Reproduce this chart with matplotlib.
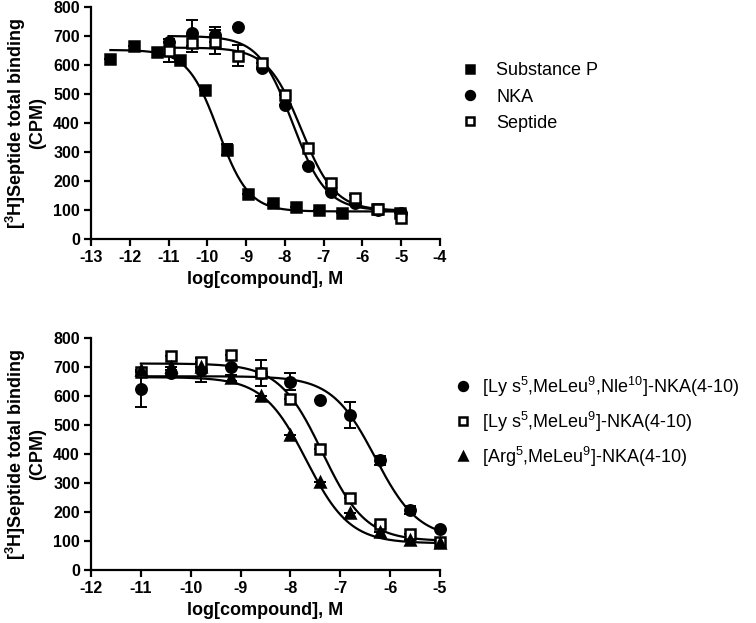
import numpy as np
import matplotlib
matplotlib.use("Agg")
import matplotlib.pyplot as plt

plt.rcParams['font.family'] = ['Liberation Sans', 'DejaVu Sans']
plt.rcParams['mathtext.fontset'] = 'custom'
plt.rcParams['mathtext.rm'] = 'Liberation Sans'
plt.rcParams['mathtext.bf'] = 'Liberation Sans:bold'
plt.rcParams['mathtext.it'] = 'Liberation Sans:italic'
plt.rcParams['axes.unicode_minus'] = False

# ---------------- data: top panel ----------------
sp_x = [-12.5, -11.9, -11.3, -10.7, -10.06, -9.5, -8.94, -8.3, -7.72, -7.12, -6.52, -5.62, -5.02]
sp_y = [620, 667, 646, 617, 514, 308, 156, 124, 111, 100, 91, 104, 90]
sp_err = [0, 0, 0, 0, 0, 20, 0, 0, 0, 0, 0, 0, 0]

nka_x = [-11.0, -10.4, -9.8, -9.2, -8.6, -8.0, -7.4, -6.8, -6.2, -5.6, -5.0]
nka_y = [678, 710, 705, 732, 588, 462, 252, 163, 124, 100, 90]
nka_err = [0, 46, 25, 0, 0, 0, 0, 0, 0, 0, 0]

sep_x = [-11.0, -10.4, -9.8, -9.2, -8.6, -8.0, -7.4, -6.8, -6.2, -5.6, -5.0]
sep_y = [650, 675, 680, 632, 606, 497, 313, 192, 140, 105, 72]
sep_err = [38, 30, 42, 36, 0, 0, 0, 0, 12, 0, 0]

# fitted 4PL parameters (top, bottom, logIC50, hill)
sp_fit = [652, 95, -9.72, 1.1]
nka_fit = [700, 98, -7.80, 1.0]
sep_fit = [660, 98, -7.58, 1.0]

top_labels = ['Substance P', 'NKA', 'Septide']
top_xticks = [-13, -12, -11, -10, -9, -8, -7, -6, -5, -4]

# ---------------- data: bottom panel ----------------
c1_x = [-11.0, -10.4, -9.8, -9.2, -8.6, -8.0, -7.4, -6.8, -6.2, -5.6, -5.0]
c1_y = [625, 680, 690, 700, 680, 650, 585, 534, 378, 207, 140]
c1_err = [63, 10, 40, 0, 45, 30, 0, 45, 15, 15, 0]

c2_x = [-11.0, -10.4, -9.8, -9.2, -8.6, -8.0, -7.4, -6.8, -6.2, -5.6, -5.0]
c2_y = [684, 738, 716, 742, 678, 590, 416, 247, 160, 124, 95]
c2_err = [0, 0, 0, 0, 0, 0, 0, 0, 0, 0, 0]

c3_x = [-11.0, -10.4, -9.8, -9.2, -8.6, -8.0, -7.4, -6.8, -6.2, -5.6, -5.0]
c3_y = [690, 700, 700, 662, 600, 466, 305, 195, 130, 105, 92]
c3_err = [0, 0, 0, 10, 0, 0, 0, 0, 0, 0, 0]

c1_fit = [668, 108, -6.30, 1.0]
c2_fit = [712, 100, -7.36, 1.0]
c3_fit = [665, 92, -7.68, 1.0]

bot_labels = [r'[Ly s$^{5}$,MeLeu$^{9}$,Nle$^{10}$]-NKA(4-10)',
              r'[Ly s$^{5}$,MeLeu$^{9}$]-NKA(4-10)',
              r'[Arg$^{5}$,MeLeu$^{9}$]-NKA(4-10)']
bot_xticks = [-12, -11, -10, -9, -8, -7, -6, -5]

yticks = [0, 100, 200, 300, 400, 500, 600, 700, 800]
ylabel = r'[$^{\mathbf{3}}$H]Septide total binding' + '\n(CPM)'
xlabel = 'log[compound], M'


def fourpl(x, p):
    top, bot, ic, h = p
    return bot + (top - bot) / (1 + 10 ** ((x - ic) * h))


fig = plt.figure(figsize=(7.56, 6.23), dpi=100)
ax1 = fig.add_axes([91 / 756, 1 - 239 / 623, 349 / 756, 232 / 623])
ax2 = fig.add_axes([91 / 756, 1 - 570 / 623, 349 / 756, 232 / 623])


def style(ax, xt, xlim):
    ax.set_xlim(*xlim)
    ax.set_ylim(0, 800)
    ax.set_xticks(xt)
    ax.set_yticks(yticks)
    for s in ['top', 'right']:
        ax.spines[s].set_visible(False)
    for s in ['left', 'bottom']:
        ax.spines[s].set_linewidth(1.6)
    ax.tick_params(direction='out', length=5, width=1.6, labelsize=11.5, pad=3)
    for lab in ax.get_xticklabels() + ax.get_yticklabels():
        lab.set_fontweight('bold')
    ax.set_ylabel(ylabel, fontsize=13, fontweight='bold', labelpad=5, linespacing=1.1)
    ax.set_xlabel(xlabel, fontsize=13, fontweight='bold', labelpad=4)


def series(ax, x, y, err, fit, marker, filled, label):
    xs = np.linspace(min(x), max(x), 300)
    ax.plot(xs, fourpl(xs, fit), color='black', lw=1.6, zorder=2)
    fc = 'black' if filled else 'white'
    ax.errorbar(x, y, yerr=err, fmt='none', ecolor='black', elinewidth=1.4,
                capsize=4, capthick=1.4, zorder=3, clip_on=False)
    ax.plot(x, y, linestyle='none', marker=marker, ms=7.5,
            mfc=fc, mec='black', mew=1.8, zorder=4, clip_on=False, label=label)


series(ax1, sp_x, sp_y, sp_err, sp_fit, 's', True, top_labels[0])
series(ax1, nka_x, nka_y, nka_err, nka_fit, 'o', True, top_labels[1])
series(ax1, sep_x, sep_y, sep_err, sep_fit, 's', False, top_labels[2])
style(ax1, top_xticks, (-13, -4))

series(ax2, c1_x, c1_y, c1_err, c1_fit, 'o', True, bot_labels[0])
series(ax2, c2_x, c2_y, c2_err, c2_fit, 's', False, bot_labels[1])
series(ax2, c3_x, c3_y, c3_err, c3_fit, '^', True, bot_labels[2])
style(ax2, bot_xticks, (-12, -5))

ax1.legend(loc='center left', bbox_to_anchor=(461 / 756, 1 - 97 / 623),
           bbox_transform=fig.transFigure, frameon=False, fontsize=13,
           handlelength=1.0, handletextpad=0.95, labelspacing=0.5,
           borderpad=0, borderaxespad=0, markerscale=0.85)
ax2.legend(loc='center left', bbox_to_anchor=(454 / 756, 1 - 421.7 / 623),
           bbox_transform=fig.transFigure, frameon=False, fontsize=13,
           handlelength=1.0, handletextpad=0.55, labelspacing=0.6,
           borderpad=0, borderaxespad=0, markerscale=0.85)

fig.savefig('out.png', dpi=100)
